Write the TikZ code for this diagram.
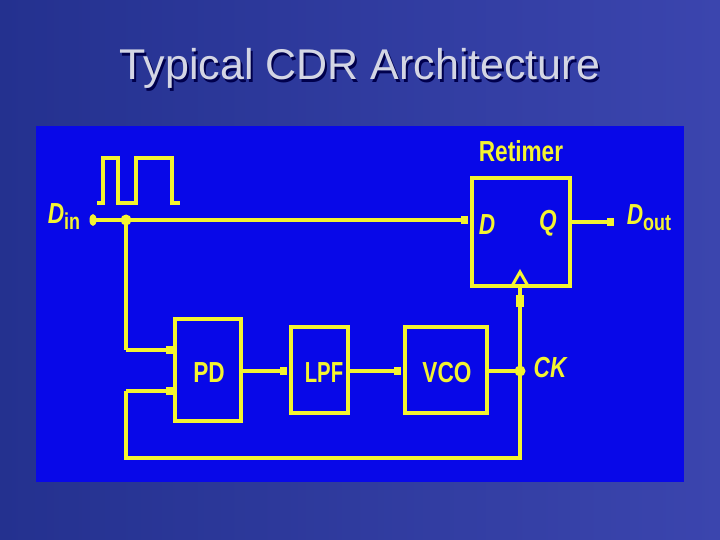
\documentclass[tikz,border=0pt]{standalone}
\usepackage{fontspec}
\setmainfont{Liberation Sans}
\usetikzlibrary{arrows.meta}
\definecolor{bgA}{HTML}{24318F}
\definecolor{bgB}{HTML}{3B45AE}
\definecolor{panel}{HTML}{0808E8}
\definecolor{yel}{HTML}{F4F430}
\definecolor{ttl}{HTML}{D4D6E4}
\newcommand{\cnd}[1]{\scalebox{0.78}[1]{#1}}
\tikzset{
  wire/.style={yel, line width=4pt},
  blk/.style={draw=yel, line width=4pt},
  lbl/.style={text=yel, font=\bfseries\fontsize{29}{30}\selectfont, inner sep=0pt},
  ilbl/.style={lbl, font=\bfseries\itshape\fontsize{29}{30}\selectfont},
  stub/.style={wire, -{Rectangle[length=7pt,width=8pt]}},
  dotj/.style={circle, fill=yel, inner sep=0pt, minimum size=11pt},
}
\begin{document}
\begin{tikzpicture}[x=1pt,y=-1pt]
\useasboundingbox (0,0) rectangle (720,540);
\shade[left color=bgA, right color=bgB] (0,0) rectangle (720,540);
\fill[panel] (36,126) rectangle (684,482);
\node[text=black!70!blue, font=\fontsize{43}{46}\selectfont] at (362,71) {Typical CDR Architecture};
\node[text=ttl, font=\fontsize{43}{46}\selectfont] (title) at (360,68) {Typical CDR Architecture};
% blocks
\draw[blk] (472,178) rectangle (570,286);
\node[lbl] (ret) at (521,151) {\cnd{Retimer}};
\node[ilbl] (D) at (487,225) {\cnd{D}};
\node[ilbl] (Q) at (548,223) {\cnd{Q}};
\draw[blk] (175,319) rectangle (241,421); \node[lbl] (pd) at (209,373) {\cnd{PD}};
\draw[blk] (291,327) rectangle (348,413); \node[lbl] (lpf) at (324,373) {\scalebox{0.7}[1]{LPF}};
\draw[blk] (405,327) rectangle (487,413); \node[lbl] (vco) at (447,373) {\cnd{VCO}};
\coordinate (din) at (93,220);
\coordinate (j1) at (126,220);
\coordinate (ck) at (520,371);
\node[ilbl] at (64,217) {\cnd{D\raisebox{-6pt}{\fontsize{23}{23}\selectfont\upshape in}}};
\node[ilbl] at (649,218) {\cnd{D\raisebox{-6pt}{\fontsize{23}{23}\selectfont\upshape out}}};
\node[ilbl] at (550,368) {\cnd{CK}};
% waveform
\draw[yel, line width=4pt] (97,203) -- (103,203) -- (103,158) -- (118,158) -- (118,203) -- (136,203) -- (136,158) -- (172,158) -- (172,203) -- (180,203);
% wires
\draw[wire] (din) -- (j1);
\draw[stub] (j1) -- (468,220);
\fill[yel] (din) ellipse (3.5pt and 6pt);
\node[dotj] at (j1) {};
\draw[stub] (570,222) -- (614,222);
\draw[wire] (j1) -- (126,350);
\draw[stub] (126,350) -- (173,350);
\draw[stub] (241,371) -- (287,371);
\draw[stub] (348,371) -- (401,371);
\draw[wire] (487,371) -- (ck);
\node[dotj] at (ck) {};
\draw[wire] (ck) -- (520,286);
\fill[yel] (516,295) rectangle (524,307);
\draw[wire] (ck) -- (520,458) -- (126,458) -- (126,391);
\draw[stub] (126,391) -- (173,391);
% clock triangle
\draw[yel, line width=3pt] (512,286) -- (520,272) -- (528,286);
\end{tikzpicture}
\end{document}
